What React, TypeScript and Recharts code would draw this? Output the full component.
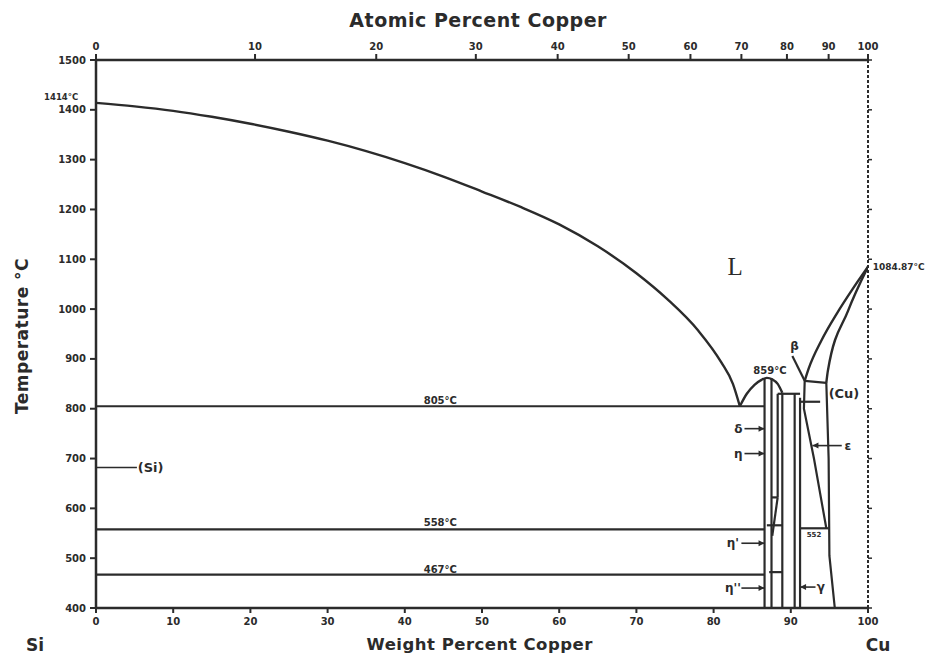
import { LineChart, Line, XAxis, YAxis, ReferenceDot } from 'recharts';

type Pt = [number, number]; // [weight % Cu, temperature °C]

const weightTicks = [0, 10, 20, 30, 40, 50, 60, 70, 80, 90, 100];
const weightTickLabels = ['0', '10', '20', '30', '40', '50', '60', '70', '80', '90', '100'];
// atomic % ticks sit on the weight % scale
const atomicTickWeights = [0, 20.6, 36.3, 49.2, 59.8, 69.0, 77.0, 83.6, 89.5, 94.9, 100];
const atomicTickLabels = ['0', '10', '20', '30', '40', '50', '60', '70', '80', '90', '100'];
const tempTicks = [400, 500, 600, 700, 800, 900, 1000, 1100, 1200, 1300, 1400, 1500];
const tempTickLabels = ['400', '500', '600', '700', '800', '900', '1000', '1100', '1200', '1300', '1400', '1500'];

// curved boundaries
const siLiquidus: Pt[] = [
  [0, 1414], [5, 1407], [10, 1398], [15, 1386], [20, 1372], [25, 1356], [30, 1338], [35, 1317],
  [40, 1293], [45, 1266], [50, 1236], [55, 1205], [60, 1170], [65, 1126], [70, 1072], [74, 1020],
  [78, 957], [81, 893], [82.5, 850], [83.4, 805],
];
const etaDome: Pt[] = [[83.4, 805], [84.3, 830], [85.3, 848], [86.2, 858], [86.9, 862], [87.6, 859], [88.3, 850], [88.9, 832]];
const cuLiquidus: Pt[] = [[91.8, 856], [92.3, 880], [94, 938], [96, 992], [98, 1040], [100, 1085]];
const cuSolidus: Pt[] = [[94.6, 852], [94.8, 876], [97.4, 996], [100, 1085]];

// straight boundaries
const iso805: Pt[] = [[0, 805], [86.6, 805]];
const iso558: Pt[] = [[0, 558], [86.6, 558]];
const iso467: Pt[] = [[0, 467], [86.6, 467]];
const etaLeft: Pt[] = [[86.6, 400], [86.6, 860]];
const etaRight: Pt[] = [[87.5, 400], [87.5, 860]];
const etaPrimeA: Pt[] = [[87.5, 622], [88.3, 622]];
const etaPrimeB: Pt[] = [[86.9, 566], [88.9, 566]];
const etaPrimeC: Pt[] = [[87.2, 472], [88.9, 472]];
const etaPrimeDiag: Pt[] = [[88.3, 622], [87.6, 545]];
const deltaLeft: Pt[] = [[88.3, 830], [88.3, 622]];
const deltaRight: Pt[] = [[88.9, 832], [88.9, 400]];
const kappaLeft: Pt[] = [[90.5, 830], [90.5, 400]];
const kappaRight: Pt[] = [[91.2, 822], [91.2, 400]];
const iso830: Pt[] = [[88.3, 830], [91.2, 830]];
const iso814: Pt[] = [[91.2, 814], [93.8, 814]];
const iso852: Pt[] = [[91.8, 856], [94.6, 852]];
const betaLine: Pt[] = [[90.2, 906], [91.8, 856]];
const epsilonLine: Pt[] = [[91.8, 856], [91.7, 800], [93.0, 700], [94.6, 560]];
const cuSolvus: Pt[] = [[94.6, 852], [94.9, 700], [95.0, 505], [95.7, 400]];
const gammaBox: Pt[] = [[91.2, 560], [94.9, 560]];

// label pointers (arrow end listed in pointerHeads)
const siPointer: Pt[] = [[0, 682], [5.3, 682]];
const deltaPointer: Pt[] = [[84.0, 760], [86.6, 760]];
const etaPointer: Pt[] = [[84.0, 710], [86.6, 710]];
const epsPointer: Pt[] = [[92.8, 726], [96.6, 726]];
const etaPPointer: Pt[] = [[83.6, 530], [86.6, 530]];
const etaPPPointer: Pt[] = [[83.6, 440], [86.6, 440]];
const gammaPointer: Pt[] = [[91.2, 442], [93.2, 442]];
const pointerHeads = [-1, 1, 1, 0, 1, 1, 0];

const curves = [siLiquidus, etaDome, cuLiquidus, cuSolidus];
const straights = [
  iso805, iso558, iso467, etaLeft, etaRight, etaPrimeA, etaPrimeB, etaPrimeC, etaPrimeDiag,
  deltaLeft, deltaRight, kappaLeft, kappaRight, iso830, iso814, iso852, betaLine, epsilonLine,
  cuSolvus, gammaBox,
];
const pointers = [siPointer, deltaPointer, etaPointer, epsPointer, etaPPointer, etaPPPointer, gammaPointer];

// annotations: text, weight %, temperature
const noteTexts = ['1414°C', 'L', '1084.87°C', '859°C', '805°C', '558°C', '467°C', '(Si)', 'β', '(Cu)', 'δ', 'η', 'ε', "η'", "η''", 'γ', '552', 'Si', 'Cu'];
const noteW = [-2.3, 82.8, 100.6, 87.3, 44.6, 44.6, 44.6, 5.4, 90.5, 94.9, 83.2, 83.2, 97.4, 82.5, 82.5, 93.9, 93.0, -7.9, 101.3];
const noteT = [1426, 1086, 1085, 876, 816, 572, 478, 682, 926, 830, 760, 710, 726, 530, 440, 442, 546, 326, 326];

const INK = '#2b2b2b';
const FONT = '"DejaVu Sans", sans-serif';

const noteStyle = (i: number) => {
  const t = noteTexts[i];
  if (t === 'L') return { size: 25, anchor: 'middle', family: '"Liberation Serif", serif', weight: 400 };
  if (t === 'Si' || t === 'Cu') return { size: 17, anchor: 'middle', family: FONT, weight: 700 };
  if (t === '1414°C') return { size: 8.5, anchor: 'end', family: FONT, weight: 700 };
  if (t === '1084.87°C') return { size: 9, anchor: 'start', family: FONT, weight: 700 };
  if (t === '(Si)' || t === '(Cu)') return { size: 13, anchor: 'start', family: FONT, weight: 700 };
  if (t === '552') return { size: 7, anchor: 'middle', family: FONT, weight: 700 };
  if (['δ', 'η', 'ε', "η'", "η''", 'γ', 'β'].includes(t)) return { size: 12, anchor: 'middle', family: FONT, weight: 700 };
  return { size: 10, anchor: 'middle', family: FONT, weight: 700 };
};

const rows = (pts: Pt[]) => pts.map(([w, t]) => ({ w, t }));

const tickStyle = { fontFamily: FONT, fontSize: 10, fontWeight: 700, fill: INK };

const title = (text: string, size: number, rotate = false) => (p: any) => (
  <text
    x={p.cx}
    y={p.cy}
    transform={rotate ? `rotate(-90 ${p.cx} ${p.cy})` : undefined}
    textAnchor="middle"
    dominantBaseline="central"
    fontFamily={FONT}
    fontSize={size}
    fontWeight={700}
    letterSpacing={0.5}
    fill={INK}
  >
    {text}
  </text>
);

// small arrowhead on one end of a pointer line
const arrowDot = (pointer: number) => (p: any) => {
  const head = pointerHeads[pointer];
  if (p.index !== head) return <g key={`a${pointer}-${p.index}`} />;
  const dir = head === 1 ? -1 : 1;
  const { cx, cy } = p;
  return (
    <polygon
      key={`a${pointer}-${p.index}`}
      points={`${cx},${cy} ${cx + dir * 6},${cy - 3} ${cx + dir * 6},${cy + 3}`}
      fill={INK}
    />
  );
};

export default function App() {
  return (
    <div style={{ position: 'absolute', left: 0, top: 0, width: 950, height: 659, background: '#fff' }}>
      <LineChart width={950} height={659} margin={{ top: 0, right: 0, bottom: 0, left: 0 }}>
        <XAxis
          dataKey="w"
          type="number"
          domain={[0, 100]}
          allowDataOverflow
          ticks={weightTicks}
          interval={0}
          tickFormatter={(_v, i) => weightTickLabels[i]}
          height={51}
          tickSize={5}
          tickMargin={5}
          tick={tickStyle}
          axisLine={{ stroke: INK, strokeWidth: 2.5 }}
          tickLine={{ stroke: INK, strokeWidth: 2 }}
        />
        <XAxis
          xAxisId="top"
          dataKey="w"
          orientation="top"
          type="number"
          domain={[0, 100]}
          allowDataOverflow
          ticks={atomicTickWeights}
          interval={0}
          tickFormatter={(_v, i) => atomicTickLabels[i]}
          height={60}
          tickSize={6}
          tickMargin={4}
          tick={tickStyle}
          axisLine={{ stroke: INK, strokeWidth: 2.5 }}
          tickLine={{ stroke: INK, strokeWidth: 2 }}
        />
        <YAxis
          type="number"
          domain={[400, 1500]}
          allowDataOverflow
          ticks={tempTicks}
          interval={0}
          tickFormatter={(_v, i) => tempTickLabels[i]}
          width={96}
          tickSize={6}
          tickMargin={4}
          tick={tickStyle}
          axisLine={{ stroke: INK, strokeWidth: 2.5 }}
          tickLine={{ stroke: INK, strokeWidth: 2 }}
        />
        <YAxis
          yAxisId="right"
          orientation="right"
          type="number"
          domain={[400, 1500]}
          allowDataOverflow
          ticks={tempTicks}
          interval={0}
          tickFormatter={() => ''}
          width={82}
          tickSize={4}
          axisLine={{ stroke: INK, strokeWidth: 2, strokeDasharray: '3 2' }}
          tickLine={{ stroke: INK, strokeWidth: 1.5 }}
        />
        {curves.map((pts, i) => (
          <Line
            key={'c' + i}
            data={rows(pts)}
            dataKey="t"
            type="monotone"
            stroke={INK}
            strokeWidth={2.4}
            dot={false}
            activeDot={false}
            isAnimationActive={false}
          />
        ))}
        {straights.map((pts, i) => (
          <Line
            key={'s' + i}
            xAxisId={i === 0 ? 'top' : 0}
            yAxisId={i === 0 ? 'right' : 0}
            data={rows(pts)}
            dataKey="t"
            type="linear"
            stroke={INK}
            strokeWidth={2.2}
            dot={false}
            activeDot={false}
            isAnimationActive={false}
          />
        ))}
        {pointers.map((pts, i) => (
          <Line
            key={'p' + i}
            data={rows(pts)}
            dataKey="t"
            type="linear"
            stroke={INK}
            strokeWidth={1.6}
            dot={arrowDot(i)}
            activeDot={false}
            isAnimationActive={false}
          />
        ))}
        {noteTexts.map((text, i) => {
          const s = noteStyle(i);
          return (
            <ReferenceDot
              key={'n' + i}
              x={noteW[i]}
              y={noteT[i]}
              ifOverflow="visible"
              shape={(p: any) => (
                <text
                  x={p.cx}
                  y={p.cy}
                  textAnchor={s.anchor as any}
                  dominantBaseline="central"
                  fontFamily={s.family}
                  fontSize={s.size}
                  fontWeight={s.weight}
                  fill={INK}
                >
                  {text}
                </text>
              )}
            />
          );
        })}
        <ReferenceDot x={49.5} y={1580} ifOverflow="visible" shape={title('Atomic Percent Copper', 19)} />
        <ReferenceDot x={49.7} y={326} ifOverflow="visible" shape={title('Weight Percent Copper', 16.5)} />
        <ReferenceDot x={-9.6} y={946} ifOverflow="visible" shape={title('Temperature °C', 17, true)} />
      </LineChart>
    </div>
  );
}
